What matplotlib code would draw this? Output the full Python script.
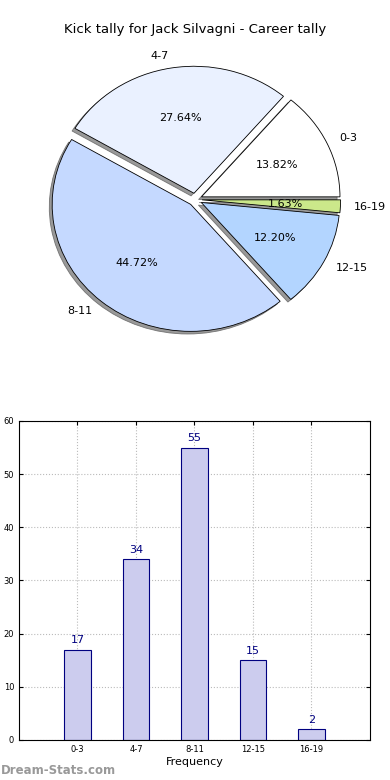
import matplotlib
matplotlib.use("Agg")
import matplotlib.pyplot as plt

labels = ["0-3", "4-7", "8-11", "12-15", "16-19"]
counts = [17, 34, 55, 15, 2]
pie_colors = ["#ffffff", "#eaf1ff", "#c5d9ff", "#b3d5ff", "#cbe88a"]

fig = plt.figure(figsize=(3.9, 7.8), dpi=100)

# pie on top (not equal aspect: the original is slightly squashed)
ax1 = fig.add_axes([0.0564, 0.5407, 0.888, 0.407])
wedges, texts, autotexts = ax1.pie(
    counts, labels=labels, colors=pie_colors, autopct="%.2f%%",
    explode=[0.05] * len(counts),
    shadow=dict(ox=-0.015, oy=-0.015, facecolor="#808080",
                edgecolor="#606060", alpha=0.8),
    startangle=0,
    wedgeprops=dict(edgecolor="black", linewidth=0.6),
    textprops=dict(fontsize=8))
ax1.set_aspect("auto")
ax1.set_xlim(-1.25, 1.25)
ax1.set_ylim(-1.25, 1.25)
fig.text(0.5, 0.962, "Kick tally for Jack Silvagni - Career tally",
         ha="center", va="center", fontsize=9.5)

# bar chart below
ax2 = fig.add_axes([0.0487, 0.0513, 0.9, 0.409])
x = list(range(len(labels)))
ax2.bar(x, counts, width=0.45, color="#ccccee", edgecolor="#000080", linewidth=0.8)
for xi, c in zip(x, counts):
    ax2.text(xi, c + 0.8, str(c), ha="center", va="bottom", color="#000080", fontsize=8)
ax2.set_xlim(-1, 5)
ax2.set_ylim(0, 60)
ax2.set_xticks(x)
ax2.set_xticklabels(labels)
ax2.set_yticks(range(0, 61, 10))
ax2.tick_params(direction="in", labelsize=6, length=3, top=True, right=True)
ax2.grid(True, linestyle=":", color="#bbbbbb", linewidth=0.8)
ax2.set_axisbelow(True)
ax2.set_xlabel("Frequency", fontsize=8, labelpad=2)

fig.text(0.003, 0.012, "Dream-Stats.com", fontsize=8.5, fontweight="bold",
         color="#999999", ha="left", va="center")

fig.savefig("out.png", dpi=100)
